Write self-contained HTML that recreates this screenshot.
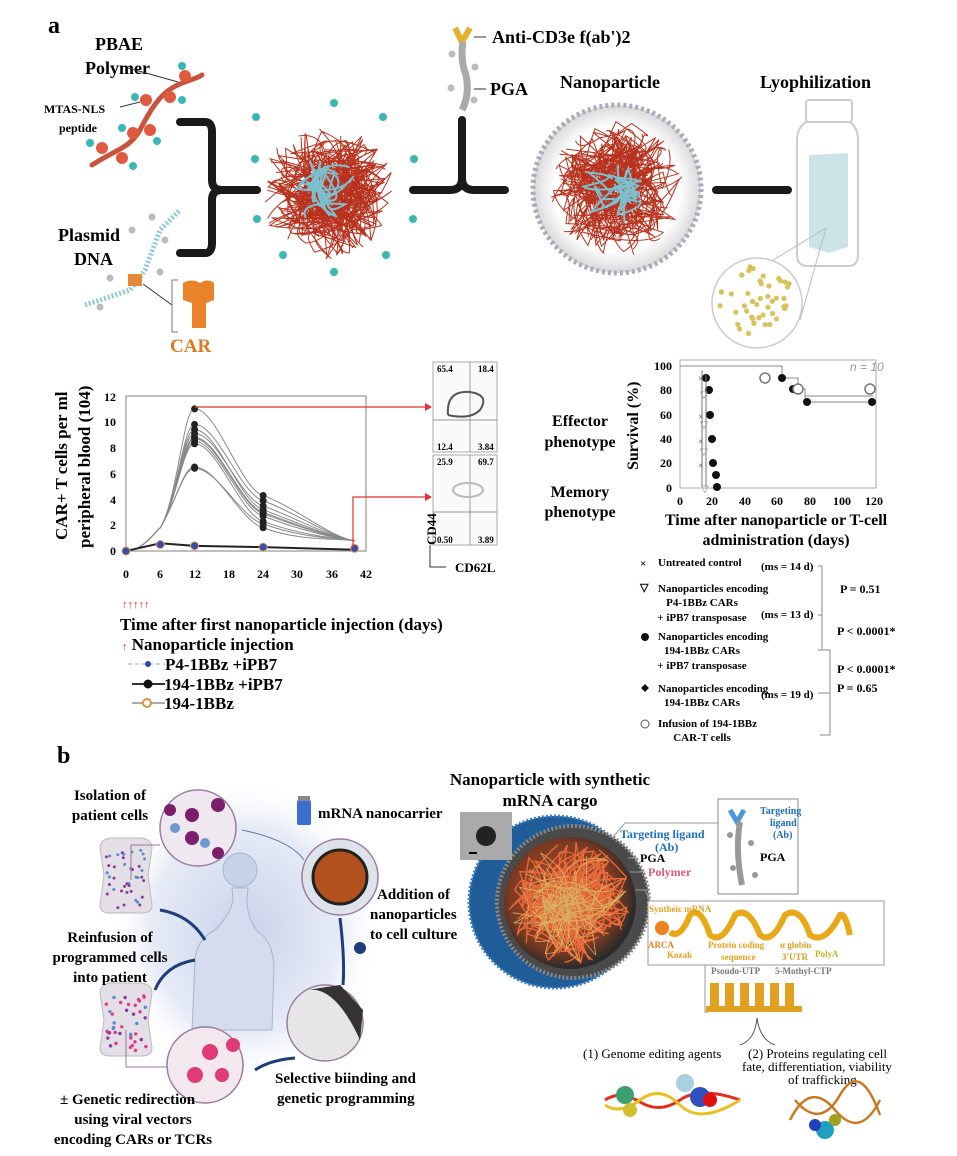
<!DOCTYPE html>
<html><head><meta charset="utf-8"><style>
html,body{margin:0;padding:0;background:#fff;width:957px;height:1156px;overflow:hidden}
svg{display:block}
text{font-family:"Liberation Serif",serif;font-weight:bold;fill:#000}
.ax{font-family:"Liberation Sans",sans-serif;font-weight:normal;fill:#999;font-size:12px}
</style></head><body>
<svg id="s" width="957" height="1156" viewBox="0 0 957 1156" xmlns="http://www.w3.org/2000/svg">
<defs>
<radialGradient id="glow" cx="50%" cy="50%" r="50%"><stop offset="0" stop-color="#c9d3ea"/><stop offset="0.7" stop-color="#e6ebf6"/><stop offset="1" stop-color="#fff" stop-opacity="0"/></radialGradient>
<radialGradient id="shell" cx="50%" cy="50%" r="50%"><stop offset="0.75" stop-color="#fff"/><stop offset="1" stop-color="#d8d8d8"/></radialGradient>
<radialGradient id="inner" cx="45%" cy="45%" r="55%"><stop offset="0" stop-color="#c5502e"/><stop offset="0.75" stop-color="#7a3a22"/><stop offset="1" stop-color="#2a2a2a"/></radialGradient>
</defs>
<!-- panel a -->
<text x="48" y="33" font-size="24">a</text>
<text x="95" y="50" font-size="18">PBAE</text>
<text x="85" y="74" font-size="18">Polymer</text>
<text x="44" y="113" font-size="12">MTAS-NLS</text>
<text x="59" y="132" font-size="12">peptide</text>
<line x1="128" y1="68" x2="178" y2="82" stroke="#333" stroke-width="1"/>
<line x1="120" y1="107" x2="140" y2="102" stroke="#333" stroke-width="1"/>
<path d="M92 165 C115 150,130 148,140 130 C150 110,160 95,172 88 C185 80,195 80,202 75" stroke="#c9543c" stroke-width="5" fill="none" stroke-linecap="round"/>
<g fill="#e05a40"><circle cx="185" cy="76" r="6"/><circle cx="146" cy="100" r="6"/><circle cx="170" cy="97" r="6"/><circle cx="133" cy="133" r="6"/><circle cx="150" cy="130" r="6"/><circle cx="102" cy="148" r="6"/><circle cx="122" cy="158" r="6"/></g>
<g fill="#3bb7b7"><circle cx="182" cy="66" r="4"/><circle cx="135" cy="97" r="4"/><circle cx="182" cy="100" r="4"/><circle cx="122" cy="128" r="4"/><circle cx="157" cy="141" r="4"/><circle cx="90" cy="143" r="4"/><circle cx="133" cy="166" r="4"/></g>
<text x="58" y="241" font-size="18">Plasmid</text>
<text x="74" y="265" font-size="18">DNA</text>
<path d="M85 305 L130 290 L145 270 L160 230 L180 210" stroke="#8cc8d8" stroke-width="5" fill="none" stroke-dasharray="2 2"/>
<rect x="128" y="274" width="14" height="12" fill="#e08a3a"/>
<g fill="#bbb"><circle cx="152" cy="217" r="3.5"/><circle cx="165" cy="240" r="3.5"/><circle cx="160" cy="272" r="3.5"/><circle cx="110" cy="278" r="3.5"/><circle cx="100" cy="307" r="3.5"/><circle cx="132" cy="230" r="3.5"/></g>
<line x1="143" y1="284" x2="172" y2="305" stroke="#333"/>
<path d="M178 280 L172 280 L172 332 L178 332" stroke="#777" fill="none"/>
<path d="M183 283 Q192 278 200 283 Q208 278 214 283 L214 300 L206 303 L206 328 L192 328 L192 303 L183 300Z" fill="#e8832a"/>
<text x="170" y="352" font-size="19" style="fill:#e07a1f">CAR</text>
<g stroke="#1a1a1a" stroke-width="8" fill="none" stroke-linecap="round">
<path d="M180 122 L205 122 Q212 122 212 132 L212 180 Q212 190 222 190 L257 190"/>
<path d="M180 253 L205 253 Q212 253 212 243 L212 200 Q212 190 222 190"/>
<path d="M413 190 L450 190 Q462 190 462 178 L462 120"/>
<path d="M462 178 Q462 190 474 190 L505 190"/>
<path d="M716 190 L788 190"/>
</g>
<g id="np1"></g>
<g fill="#3bb7b7"><circle cx="256" cy="117" r="4"/><circle cx="334" cy="103" r="4"/><circle cx="383" cy="117" r="4"/><circle cx="255" cy="159" r="4"/><circle cx="414" cy="159" r="4"/><circle cx="257" cy="219" r="4"/><circle cx="413" cy="219" r="4"/><circle cx="283" cy="255" r="4"/><circle cx="386" cy="255" r="4"/><circle cx="334" cy="272" r="4"/></g>
<path d="M455 28 L462 42 L470 28" stroke="#e6b030" stroke-width="6" fill="none"/>
<path d="M463 42 Q460 60 466 75 Q470 95 462 110" stroke="#aaa" stroke-width="7" fill="none"/>
<g fill="#bbb"><circle cx="452" cy="54" r="3.5"/><circle cx="475" cy="67" r="3.5"/><circle cx="451" cy="88" r="3.5"/><circle cx="474" cy="100" r="3.5"/></g>
<line x1="474" y1="37" x2="486" y2="37" stroke="#333"/>
<line x1="474" y1="89" x2="486" y2="89" stroke="#333"/>
<text x="492" y="43" font-size="18">Anti-CD3e f(ab')2</text>
<text x="490" y="95" font-size="18">PGA</text>
<text x="560" y="88" font-size="18">Nanoparticle</text>
<circle cx="617" cy="189" r="84" fill="url(#shell)" stroke="#aab" stroke-width="5" stroke-dasharray="3 3"/>
<g id="np2"></g>
<text x="760" y="88" font-size="18">Lyophilization</text>
<rect x="806" y="100" width="46" height="22" rx="3" fill="none" stroke="#ccc" stroke-width="2"/>
<path d="M806 122 Q797 128 797 140 L797 255 Q797 266 808 266 L848 266 Q858 266 858 255 L858 140 Q858 128 850 122Z" fill="none" stroke="#ccc" stroke-width="2"/>
<path d="M809 155 L848 153 L848 247 L829 253 L809 247Z" fill="#cbe4e8"/>
<line x1="826" y1="228" x2="770" y2="262" stroke="#bbb"/><line x1="826" y1="228" x2="800" y2="320" stroke="#bbb"/>
<circle cx="757" cy="303" r="45" fill="#fff" stroke="#ccc" stroke-width="1.5"/>
<g id="dots" fill="#d9c25a"></g>
<!-- graph -->
<text transform="translate(67,540) rotate(-90)" font-size="17">CAR+ T cells per ml</text>
<text transform="translate(90,548) rotate(-90)" font-size="17">peripheral blood (104)</text>
<rect x="126" y="396" width="240" height="155" fill="none" stroke="#aaa" stroke-width="1.5"/>
<g class="ax" text-anchor="end"><text x="116" y="555">0</text><text x="116" y="529">2</text><text x="116" y="504">4</text><text x="116" y="478">6</text><text x="116" y="452">8</text><text x="116" y="426">10</text><text x="116" y="401">12</text></g>
<g class="ax" text-anchor="middle"><text x="126" y="578">0</text><text x="160" y="578">6</text><text x="195" y="578">12</text><text x="229" y="578">18</text><text x="263" y="578">24</text><text x="297" y="578">30</text><text x="332" y="578">36</text><text x="366" y="578">42</text></g>
<g id="curves" fill="none" stroke="#888" stroke-width="1"></g>
<path d="M195 407 L425 407" stroke="#e03030" stroke-width="1.2" fill="none"/><path d="M425 403 L432 407 L425 411Z" fill="#e03030"/>
<path d="M353 548 L353 497 L425 497" stroke="#e03030" stroke-width="1.2" fill="none"/><path d="M425 493 L432 497 L425 501Z" fill="#e03030"/>
<text x="122" y="608" font-size="11" style="fill:#e03030">↑↑↑↑↑</text>
<text x="120" y="630" font-size="17">Time after first nanoparticle injection (days)</text>
<text x="122" y="650" font-size="17"><tspan style="fill:#e03030" font-size="11">↑</tspan> Nanoparticle injection</text>
<line x1="128" y1="664" x2="165" y2="664" stroke="#aaa" stroke-dasharray="4 3"/><circle cx="148" cy="664" r="3" fill="#334aa0"/>
<text x="165" y="670" font-size="17">P4-1BBz +iPB7</text>
<line x1="132" y1="684" x2="165" y2="684" stroke="#333" stroke-width="2"/><circle cx="148" cy="684" r="4.5" fill="#111"/>
<text x="164" y="690" font-size="17">194-1BBz +iPB7</text>
<line x1="132" y1="703" x2="165" y2="703" stroke="#aaa" stroke-width="2"/><circle cx="147" cy="703" r="4" fill="#fff" stroke="#e0903a" stroke-width="2"/>
<text x="164" y="709" font-size="17">194-1BBz</text>
<!-- flow plots -->
<rect x="433" y="362" width="64" height="90" fill="#fafafa" stroke="#aaa"/>
<rect x="433" y="455" width="64" height="90" fill="#fafafa" stroke="#aaa"/>
<line x1="433" y1="420" x2="497" y2="420" stroke="#777" stroke-width="0.7"/><line x1="470" y1="362" x2="470" y2="452" stroke="#777" stroke-width="0.7"/>
<line x1="433" y1="512" x2="497" y2="512" stroke="#777" stroke-width="0.7"/><line x1="470" y1="455" x2="470" y2="545" stroke="#777" stroke-width="0.7"/>
<path d="M448 415 Q446 390 470 392 Q490 395 480 410 Q470 420 448 415" fill="none" stroke="#555" stroke-width="2"/>
<ellipse cx="468" cy="490" rx="15" ry="7" fill="none" stroke="#bbb" stroke-width="2"/>
<g class="ax"><text x="437" y="372" font-size="9">65.4</text><text x="478" y="372" font-size="9">18.4</text><text x="437" y="450" font-size="9">12.4</text><text x="478" y="450" font-size="9">3.84</text><text x="437" y="465" font-size="9">25.9</text><text x="478" y="465" font-size="9">69.7</text><text x="437" y="543" font-size="9">0.50</text><text x="478" y="543" font-size="9">3.89</text></g>
<text transform="translate(436,545) rotate(-90)" font-size="13">CD44</text>
<path d="M430 545 L430 567 L446 567" stroke="#333" fill="none"/>
<text x="455" y="572" font-size="13">CD62L</text>
<text x="580" y="426" font-size="16" text-anchor="middle">Effector</text>
<text x="580" y="447" font-size="16" text-anchor="middle">phenotype</text>
<text x="580" y="497" font-size="16" text-anchor="middle">Memory</text>
<text x="580" y="517" font-size="16" text-anchor="middle">phenotype</text>
<!-- survival -->
<text transform="translate(638,470) rotate(-90)" font-size="16">Survival (%)</text>
<rect x="680" y="360" width="196" height="128" fill="none" stroke="#aaa"/>
<g class="ax" text-anchor="end"><text x="672" y="370">100</text><text x="672" y="394">80</text><text x="672" y="419">60</text><text x="672" y="443">40</text><text x="672" y="467">20</text><text x="672" y="492">0</text></g>
<g class="ax" text-anchor="middle"><text x="680" y="505">0</text><text x="712" y="505">20</text><text x="745" y="505">40</text><text x="777" y="505">60</text><text x="810" y="505">80</text><text x="842" y="505">100</text><text x="874" y="505">120</text></g>
<text x="850" y="371" class="ax" font-style="italic">n = 10</text>
<path d="M680 366 L782 366 L782 378 L798 378 L798 389 L805 389 L805 396 L873 396" stroke="#888" fill="none"/>
<path d="M805 396 L805 402 L873 402" stroke="#888" fill="none"/>
<g fill="#111"><circle cx="782" cy="378" r="4"/><circle cx="793" cy="389" r="4"/><circle cx="807" cy="402" r="4"/><circle cx="872" cy="402" r="4"/><circle cx="706" cy="378" r="4"/><circle cx="709" cy="390" r="4"/><circle cx="710" cy="415" r="4"/><circle cx="712" cy="439" r="4"/><circle cx="713" cy="463" r="4"/><circle cx="716" cy="475" r="4"/><circle cx="717" cy="487" r="4"/></g>
<g fill="#fff" stroke="#777" stroke-width="1.5"><circle cx="765" cy="378" r="5"/><circle cx="798" cy="389" r="5"/><circle cx="870" cy="389" r="5"/></g>
<g fill="none" stroke="#777"><path d="M702 370 L702 487"/><path d="M706 375 L706 487"/></g>
<g font-size="10" font-family="Liberation Sans" fill="#555" style="font-weight:normal"><text x="698" y="382" style="fill:#555;font-weight:normal">×</text><text x="698" y="420" style="fill:#555;font-weight:normal">×</text><text x="698" y="445" style="fill:#555;font-weight:normal">×</text><text x="698" y="469" style="fill:#555;font-weight:normal">×</text><text x="700" y="398" style="fill:#888;font-weight:normal">▽</text><text x="700" y="428" style="fill:#888;font-weight:normal">▽</text><text x="700" y="455" style="fill:#888;font-weight:normal">▽</text><text x="701" y="492" style="fill:#888;font-weight:normal">▽</text></g>
<text x="776" y="525" font-size="16" text-anchor="middle">Time after nanoparticle or T-cell</text>
<text x="776" y="545" font-size="16" text-anchor="middle">administration (days)</text>
<g font-size="11">
<text x="640" y="567" font-size="11">×</text><text x="658" y="566" font-size="11">Untreated control</text>
<text x="761" y="570" font-size="11">(ms = 14 d)</text>
<text x="640" y="591" font-size="11">▽</text><text x="658" y="592" font-size="11">Nanoparticles encoding</text>
<text x="702" y="606" font-size="11" text-anchor="middle">P4-1BBz CARs</text>
<text x="702" y="621" font-size="11" text-anchor="middle">+ iPB7 transposase</text>
<text x="761" y="618" font-size="11">(ms = 13 d)</text>
<circle cx="645" cy="637" r="4" fill="#111"/><text x="658" y="640" font-size="11">Nanoparticles encoding</text>
<text x="702" y="654" font-size="11" text-anchor="middle">194-1BBz CARs</text>
<text x="702" y="669" font-size="11" text-anchor="middle">+ iPB7 transposase</text>
<path d="M645 684 L649 688 L645 692 L641 688Z" fill="#111"/><text x="658" y="692" font-size="11">Nanoparticles encoding</text>
<text x="702" y="706" font-size="11" text-anchor="middle">194-1BBz CARs</text>
<text x="761" y="698" font-size="11">(ms = 19 d)</text>
<circle cx="645" cy="724" r="4" fill="#fff" stroke="#555"/><text x="658" y="727" font-size="11">Infusion of 194-1BBz</text>
<text x="702" y="741" font-size="11" text-anchor="middle">CAR-T cells</text>
<text x="840" y="593" font-size="12">P = 0.51</text>
<text x="837" y="635" font-size="12">P &lt; 0.0001*</text>
<text x="837" y="673" font-size="12">P &lt; 0.0001*</text>
<text x="837" y="692" font-size="12">P = 0.65</text>
</g>
<path d="M818 566 L822 566 L822 650 M818 615 L822 615 M818 650 L830 650 L830 735 L820 735 M818 693 L830 693" stroke="#888" fill="none"/>
<!-- panel b -->
<text x="57" y="763" font-size="24">b</text>
<ellipse cx="245" cy="930" rx="135" ry="150" fill="url(#glow)"/>
<path d="M232 888 L233 900 Q230 915 215 930 Q196 940 195 960 L192 1030 L272 1030 L274 965 Q272 940 258 932 Q247 918 247 900 L248 888Z" fill="#d4dced" stroke="#a8b4cf"/>
<circle cx="240" cy="870" r="17" fill="#c8d2e6" stroke="#a8b4cf"/>
<path d="M100 848 Q100 840 110 838 L142 838 Q152 840 152 848 L148 875 L152 905 Q152 913 142 913 L110 913 Q100 913 100 905 L104 875Z" fill="#e4dfe6" stroke="#bbb"/>
<path d="M100 993 Q100 985 110 983 L142 983 Q152 985 152 993 L148 1020 L152 1048 Q152 1056 142 1056 L110 1056 Q100 1056 100 1048 L104 1020Z" fill="#e4dfe6" stroke="#bbb"/>
<g id="bagdots"></g>
<path d="M131 880 L131 845 L160 845" stroke="#9a7aa0" fill="none"/>
<path d="M126 1030 L126 1067 L167 1067" stroke="#9a7aa0" fill="none"/>
<circle cx="198" cy="828" r="38" fill="#f0e8f0" stroke="#9a7aa0" stroke-width="1.5"/>
<g fill="#7b1f6a"><circle cx="192" cy="815" r="7"/><circle cx="192" cy="838" r="7"/><circle cx="218" cy="805" r="7"/><circle cx="218" cy="853" r="6"/><circle cx="170" cy="810" r="6"/></g>
<g fill="#6a9ad0"><circle cx="175" cy="828" r="5"/><circle cx="205" cy="843" r="5"/></g>
<circle cx="340" cy="877" r="38" fill="#dde3ea" stroke="#9a7aa0" stroke-width="1.5"/>
<circle cx="340" cy="877" r="27" fill="#b4521f" stroke="#222" stroke-width="3"/>
<rect x="297" y="800" width="14" height="25" rx="2" fill="#3a6ed0"/><rect x="298" y="796" width="12" height="5" fill="#888"/>
<circle cx="325" cy="1023" r="38" fill="#e6e6e6" stroke="#9a7aa0" stroke-width="1.5"/>
<path d="M307 990 Q335 985 360 1040 L363 1010 Q345 990 340 985Z" fill="#333"/>
<circle cx="205" cy="1065" r="38" fill="#f2e8ee" stroke="#9a7aa0" stroke-width="1.5"/>
<g fill="#e03a78"><circle cx="210" cy="1052" r="8"/><circle cx="195" cy="1075" r="8"/><circle cx="222" cy="1075" r="7"/><circle cx="233" cy="1045" r="7"/></g>
<circle cx="360" cy="948" r="6" fill="#1d3e7a"/>
<g stroke="#1d3e7a" stroke-width="3" fill="none"><path d="M340 918 Q345 960 343 985"/><path d="M295 1058 Q270 1060 255 1070"/><path d="M205 940 Q190 915 160 910"/><path d="M155 990 Q165 965 195 960"/></g>
<path d="M242 830 Q290 840 304 860" stroke="#5a7ab0" fill="none"/>
<text x="110" y="800" font-size="15" text-anchor="middle">Isolation of</text>
<text x="110" y="820" font-size="15" text-anchor="middle">patient cells</text>
<text x="318" y="818" font-size="15">mRNA nanocarrier</text>
<text x="377" y="899" font-size="15">Addition of</text>
<text x="370" y="919" font-size="15">nanoparticles</text>
<text x="370" y="939" font-size="15">to cell culture</text>
<text x="110" y="942" font-size="15" text-anchor="middle">Reinfusion of</text>
<text x="110" y="962" font-size="15" text-anchor="middle">programmed cells</text>
<text x="110" y="982" font-size="15" text-anchor="middle">into patient</text>
<text x="275" y="1083" font-size="15">Selective biinding and</text>
<text x="277" y="1103" font-size="15">genetic programming</text>
<text x="60" y="1104" font-size="15">± Genetic redirection</text>
<text x="133" y="1124" font-size="15" text-anchor="middle">using viral vectors</text>
<text x="133" y="1144" font-size="15" text-anchor="middle">encoding CARs or TCRs</text>
<text x="550" y="785" font-size="17" text-anchor="middle">Nanoparticle  with synthetic</text>
<text x="550" y="806" font-size="17" text-anchor="middle">mRNA cargo</text>
<circle cx="555" cy="902" r="86" fill="#1f5c98"/>
<circle cx="555" cy="902" r="86" fill="none" stroke="#3a7ac0" stroke-width="3" stroke-dasharray="2 2"/>
<circle cx="573" cy="902" r="76" fill="#4a4a4a"/>
<circle cx="573" cy="902" r="76" fill="none" stroke="#888" stroke-width="4" stroke-dasharray="2 2"/>
<circle cx="570" cy="903" r="66" fill="url(#inner)"/>
<g id="np3"></g>
<rect x="460" y="812" width="52" height="48" fill="#aaa"/><circle cx="486" cy="836" r="10" fill="#222"/><rect x="469" y="852" width="8" height="2" fill="#000"/>
<text x="620" y="838" font-size="12" style="fill:#1e6fbf">Targeting ligand</text>
<text x="655" y="851" font-size="12" style="fill:#1e6fbf">(Ab)</text>
<text x="640" y="862" font-size="12">PGA</text>
<text x="648" y="876" font-size="12" style="fill:#e05a78">Polymer</text>
<path d="M612 838 L625 823 L718 823" stroke="#999" fill="none"/>
<path d="M628 858 L638 858 M630 872 L645 872" stroke="#999" fill="none"/>
<rect x="718" y="799" width="80" height="95" fill="#fff" stroke="#888"/>
<path d="M730 810 L737 822 L744 810" stroke="#4a9ad8" stroke-width="5" fill="none"/>
<path d="M740 822 Q735 850 742 885" stroke="#999" stroke-width="6" fill="none"/>
<g fill="#999"><circle cx="730" cy="835" r="3"/><circle cx="751" cy="843" r="3"/><circle cx="733" cy="868" r="3"/><circle cx="755" cy="875" r="3"/></g>
<text x="760" y="814" font-size="10" style="fill:#1e6fbf">Targeting</text><text x="770" y="826" font-size="10" style="fill:#1e6fbf">ligand</text><text x="773" y="838" font-size="10" style="fill:#1e6fbf">(Ab)</text>
<text x="760" y="861" font-size="12">PGA</text>
<path d="M635 890 L645 890 L650 901" stroke="#999" fill="none"/>
<rect x="648" y="901" width="236" height="64" fill="#fff" stroke="#999"/>
<path d="M670 932 Q680 940 690 915 Q700 905 710 935 Q722 945 735 915 Q748 905 760 935 Q772 945 785 915 Q800 905 810 935 Q825 945 840 915 Q845 912 850 935" stroke="#e8a818" stroke-width="6" fill="none"/>
<circle cx="662" cy="928" r="7" fill="#f08020"/>
<g font-size="9"><text x="649" y="912" style="fill:#e8a020">Syntheic mRNA</text><text x="648" y="948" style="fill:#e8801a">ARCA</text><text x="667" y="958" style="fill:#e8a020">Kozak</text><text x="708" y="948" style="fill:#e8a020">Protein coding</text><text x="721" y="960" style="fill:#e8a020">sequence</text><text x="780" y="948" style="fill:#d8a020">α globin</text><text x="782" y="960" style="fill:#d8a020">3'UTR</text><text x="815" y="957" style="fill:#b8b820">PolyA</text><text x="711" y="974" style="fill:#777">Psoudo-UTP</text><text x="775" y="974" style="fill:#777">5-Mothyl-CTP</text></g>
<path d="M705 965 L705 1012 L708 1012" stroke="#999" fill="none"/>
<g fill="#e0a020"><rect x="710" y="983" width="9" height="25"/><rect x="725" y="983" width="9" height="25"/><rect x="740" y="983" width="9" height="25"/><rect x="755" y="983" width="9" height="25"/><rect x="770" y="983" width="9" height="25"/><rect x="785" y="983" width="9" height="25"/><rect x="706" y="1006" width="96" height="6"/></g>
<path d="M757 1018 Q755 1040 740 1045 M757 1018 Q760 1040 775 1045" stroke="#555" fill="none"/>
<text x="583" y="1058" font-size="13" style="font-weight:normal">(1) Genome editing agents</text>
<text x="748" y="1058" font-size="13" style="font-weight:normal">(2) Proteins regulating cell</text>
<text x="742" y="1071" font-size="13" style="font-weight:normal">fate, differentiation, viability</text>
<text x="788" y="1084" font-size="13" style="font-weight:normal">of trafficking</text>
<g stroke-width="3" fill="none"><path d="M605 1100 Q620 1090 640 1102 T680 1100 T740 1100" stroke="#e03020"/><path d="M605 1105 Q620 1115 640 1100 T680 1105 T740 1100" stroke="#e8c020"/></g>
<g><circle cx="625" cy="1095" r="9" fill="#3aa070"/><circle cx="700" cy="1097" r="10" fill="#3050c0"/><circle cx="710" cy="1100" r="7" fill="#e01010"/><circle cx="685" cy="1083" r="9" fill="#a8d0e0"/><circle cx="630" cy="1110" r="7" fill="#d0c030"/></g>
<g stroke-width="2.5" fill="none"><path d="M790 1120 Q810 1080 835 1110 T880 1100" stroke="#c87a20"/><path d="M795 1100 Q820 1130 840 1095 T880 1115" stroke="#c87a20"/></g>
<g><circle cx="825" cy="1130" r="9" fill="#20a0c0"/><circle cx="815" cy="1125" r="6" fill="#2040c0"/><circle cx="835" cy="1120" r="6" fill="#a0a020"/></g>
</svg>
<script>
(function(){
var s=1234;function r(){s=(s*16807)%2147483647;return s/2147483647;}
var NS="http://www.w3.org/2000/svg";
function tangle(id,cx,cy,R,n,col,w){var g=document.getElementById(id);var d="";
for(var i=0;i<n;i++){var a=r()*6.283,rr=Math.sqrt(r())*R*0.8;var x=cx+Math.cos(a)*rr,y=cy+Math.sin(a)*rr;d+="M"+x.toFixed(1)+" "+y.toFixed(1);
for(var k=0;k<3;k++){var a2=r()*6.283,r2=Math.sqrt(r())*R;var x2=cx+Math.cos(a2)*r2,y2=cy+Math.sin(a2)*r2;var a3=r()*6.283,r3=Math.sqrt(r())*R;d+=" Q"+(cx+Math.cos(a3)*r3).toFixed(1)+" "+(cy+Math.sin(a3)*r3).toFixed(1)+" "+x2.toFixed(1)+" "+y2.toFixed(1);}}
var p=document.createElementNS(NS,"path");p.setAttribute("d",d);p.setAttribute("stroke",col);p.setAttribute("stroke-width",w);p.setAttribute("fill","none");g.appendChild(p);}
tangle("np1",328,192,68,70,"#b8321e",1);tangle("np1",325,190,35,8,"#7cc0d0",2);
tangle("np2",617,189,68,70,"#b8321e",1);tangle("np2",615,190,35,8,"#7cc0d0",2);
tangle("np3",570,903,62,50,"#e86a3a",1.3);tangle("np3",570,903,60,20,"#d8b060",0.8);
function add(g,cx,cy,rad,fill){var c=document.createElementNS(NS,"circle");c.setAttribute("cx",cx);c.setAttribute("cy",cy);c.setAttribute("r",rad);c.setAttribute("fill",fill);g.appendChild(c);}
var dg=document.getElementById("dots");for(var i=0;i<45;i++){var a=r()*6.283,rr=Math.sqrt(r())*38;add(dg,757+Math.cos(a)*rr,303+Math.sin(a)*rr,2.6,"#d9c25a");}
var bg=document.getElementById("bagdots");
for(var i=0;i<40;i++){add(bg,106+r()*40,850+r()*58,1.5,r()<0.5?"#8a3a9a":"#5a8ad0");}
for(var i=0;i<40;i++){add(bg,106+r()*40,995+r()*56,1.7,r()<0.5?"#e03a88":(r()<0.5?"#8a3a9a":"#5a8ad0"));}
var cg=document.getElementById("curves");function X(t){return 126+t*240/42}function Y(v){return 551-v*155/12}
var peaks=[11,9.8,9.1,8.8,8.5,8.3,6.5,6.4,9.4,8.7],d24=[4.3,3.9,3.5,3.0,2.7,2.3,1.8,2.1,3.2,2.9];
peaks.forEach(function(p,i){var d="M"+X(0)+" "+Y(0)+" C"+X(3)+" "+Y(0)+" "+X(5)+" "+Y(1.5)+" "+X(6)+" "+Y(1.8)+" C"+X(9)+" "+Y(4)+" "+X(10)+" "+Y(p)+" "+X(12)+" "+Y(p)+" C"+X(16)+" "+Y(p)+" "+X(20)+" "+Y(d24[i]+0.5)+" "+X(24)+" "+Y(d24[i])+" C"+X(30)+" "+Y(d24[i]-1)+" "+X(36)+" "+Y(1)+" "+X(40)+" "+Y(0.8);var q=document.createElementNS(NS,"path");q.setAttribute("d",d);cg.appendChild(q);
[[12,p],[24,d24[i]]].forEach(function(pt){var c=document.createElementNS(NS,"circle");c.setAttribute("cx",X(pt[0]));c.setAttribute("cy",Y(pt[1]));c.setAttribute("r",3.5);c.setAttribute("fill","#222");c.setAttribute("stroke","none");cg.appendChild(c);});});
var q=document.createElementNS(NS,"path");q.setAttribute("d","M"+X(0)+" "+Y(0)+" L"+X(6)+" "+Y(0.6)+" L"+X(12)+" "+Y(0.4)+" L"+X(24)+" "+Y(0.3)+" L"+X(40)+" "+Y(0.1));q.setAttribute("stroke","#222");q.setAttribute("stroke-width","2");cg.appendChild(q);
[[0,0],[6,0.5],[12,0.4],[24,0.3],[40,0.2]].forEach(function(pt){var c=document.createElementNS(NS,"circle");c.setAttribute("cx",X(pt[0]));c.setAttribute("cy",Y(pt[1]));c.setAttribute("r",4);c.setAttribute("fill","#3a4ab0");c.setAttribute("stroke","#e8a050");cg.appendChild(c);});
})();
</script>
</body></html>
